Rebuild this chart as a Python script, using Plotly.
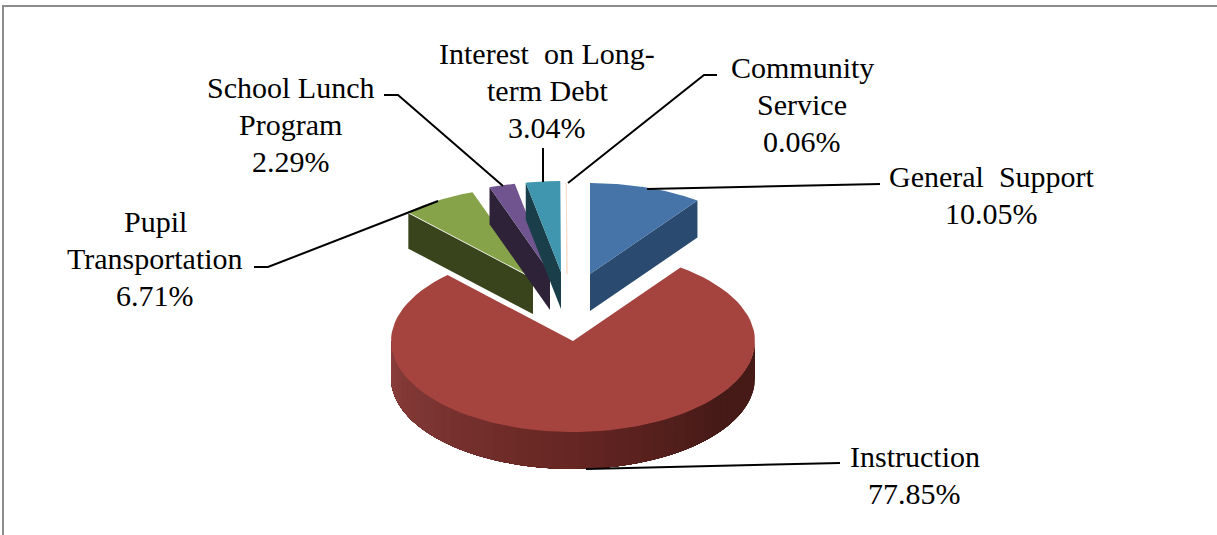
import plotly.graph_objects as go
import numpy as np

# ---- data ----
categories = ["General Support", "Instruction", "Pupil Transportation",
              "School Lunch Program", "Interest on Long-term Debt", "Community Service"]
values = [10.05, 77.85, 6.71, 2.29, 3.04, 0.06]
label_lines = ["General&nbsp;&nbsp;Support<br>10.05%", "Instruction<br>77.85%",
               "Pupil<br>Transportation<br>6.71%", "School Lunch<br>Program<br>2.29%",
               "Interest&nbsp;&nbsp;on Long-<br>term Debt<br>3.04%", "Community<br>Service<br>0.06%"]

# ---- styling / layout ----
W, H = 1217, 535
RX, RY, DEPTH = 182, 91, 37
LINE_GAP = 37
apex = [(590, 274), (573, 341), (533, 278), (550, 273), (561, 272), (567, 274)]
top_colors = ["#4674a8", "#a5433f", "#86a34a", "#70548f", "#3f96ae", "#f6dccb"]
side_colors = ["#2b4a6f", "#a5433f", "#39441c", "#2d2238", "#1a3f4a", "#f6e6dc"]
label_pos = [(991.5, 195), (914.5, 475), (155, 258), (290.5, 124), (547, 90), (802, 104)]
leaders = [
    ([647, 880], [189, 184]),
    ([586, 840], [469, 463]),
    ([254, 268, 438], [267, 267, 201]),
    ([384, 398, 503], [95, 95, 186]),
    ([543, 543], [148, 182]),
    ([717, 704, 568], [75, 75, 183]),
]
wall_stops = [(90, (0x45, 0x1a, 0x17)), (125, (0x45, 0x1a, 0x17)),
              (180, (0x66, 0x26, 0x23)), (270, (0x8c, 0x40, 0x3d))]


def pt(center, deg):
    t = np.radians(deg)
    return center[0] + RX * np.sin(t), center[1] - RY * np.cos(t)


def poly(fig, xs, ys, color, name, line=None, lw=0):
    fig.add_trace(go.Scatter(x=xs, y=ys, mode="lines", fill="toself", fillcolor=color,
                             line=dict(color=line or color, width=lw),
                             name=name, hoverinfo="name", showlegend=False))


def wall_color(a):
    for (a0, c0), (a1, c1) in zip(wall_stops, wall_stops[1:]):
        if a <= a1:
            f = (a - a0) / (a1 - a0)
            return "rgb(%d,%d,%d)" % tuple(c0[k] + f * (c1[k] - c0[k]) for k in range(3))
    return "rgb(140,64,61)"


edges = np.concatenate([[0], np.cumsum(values)]) / sum(values) * 360
fig = go.Figure()

# the large slice goes first, the small pulled slices sit over it
order = [1, 0, 2, 3, 4, 5]
for i in order:
    start, end = edges[i], edges[i + 1]
    c = apex[i]
    if i == 1:
        # each band reaches to the far end of the wall, so no seams show through
        for a in np.arange(90, 270, 4.0):
            arc = np.linspace(a, 270, 60)
            xt, yt = pt(c, arc)
            poly(fig, list(xt) + list(xt[::-1]), list(yt) + list(yt[::-1] + DEPTH),
                 wall_color(a + 2.0), categories[i])
    elif i == 0:
        ex, ey = pt(c, end)
        poly(fig, [c[0], ex, ex, c[0]], [c[1], ey, ey + DEPTH, c[1] + DEPTH],
             side_colors[i], categories[i])
    else:
        ex, ey = pt(c, start)
        poly(fig, [c[0], ex, ex, c[0]], [c[1], ey, ey + DEPTH, c[1] + DEPTH],
             side_colors[i], categories[i], line="#ffffff" if i == 2 else None,
             lw=1.5 if i == 2 else 0)
    arc = np.linspace(start, end, 90)
    xa, ya = pt(c, arc)
    poly(fig, [c[0], *xa, c[0]], [c[1], *ya, c[1]], top_colors[i], categories[i],
         lw=1 if i == 5 else 0)

for xs, ys in leaders:
    fig.add_trace(go.Scatter(x=xs, y=ys, mode="lines", line=dict(color="#000000", width=2),
                             hoverinfo="skip", showlegend=False))

for (x, y), text in zip(label_pos, label_lines):
    rows = text.split("<br>")
    for k, row in enumerate(rows):
        fig.add_annotation(x=x, y=y + (k - (len(rows) - 1) / 2) * LINE_GAP, text=row,
                           showarrow=False, align="center", xanchor="center", yanchor="middle",
                           font=dict(family="Liberation Serif", size=30, color="#000000"))

# outer frame
fig.add_shape(type="line", x0=3, x1=W, y0=6, y1=6, line=dict(color="#8c8c8c", width=2))
fig.add_shape(type="line", x0=3, x1=3, y0=5, y1=H, line=dict(color="#8c8c8c", width=2))

fig.update_layout(
    width=W, height=H, margin=dict(l=0, r=0, t=0, b=0),
    paper_bgcolor="#ffffff", plot_bgcolor="#ffffff", showlegend=False,
    xaxis=dict(range=[0, W], visible=False, fixedrange=True),
    yaxis=dict(range=[H, 0], visible=False, fixedrange=True),
)
fig.write_html("out.html", config=dict(displayModeBar=False),
               post_script="document.body.style.margin='0';document.body.style.overflow='hidden';")
